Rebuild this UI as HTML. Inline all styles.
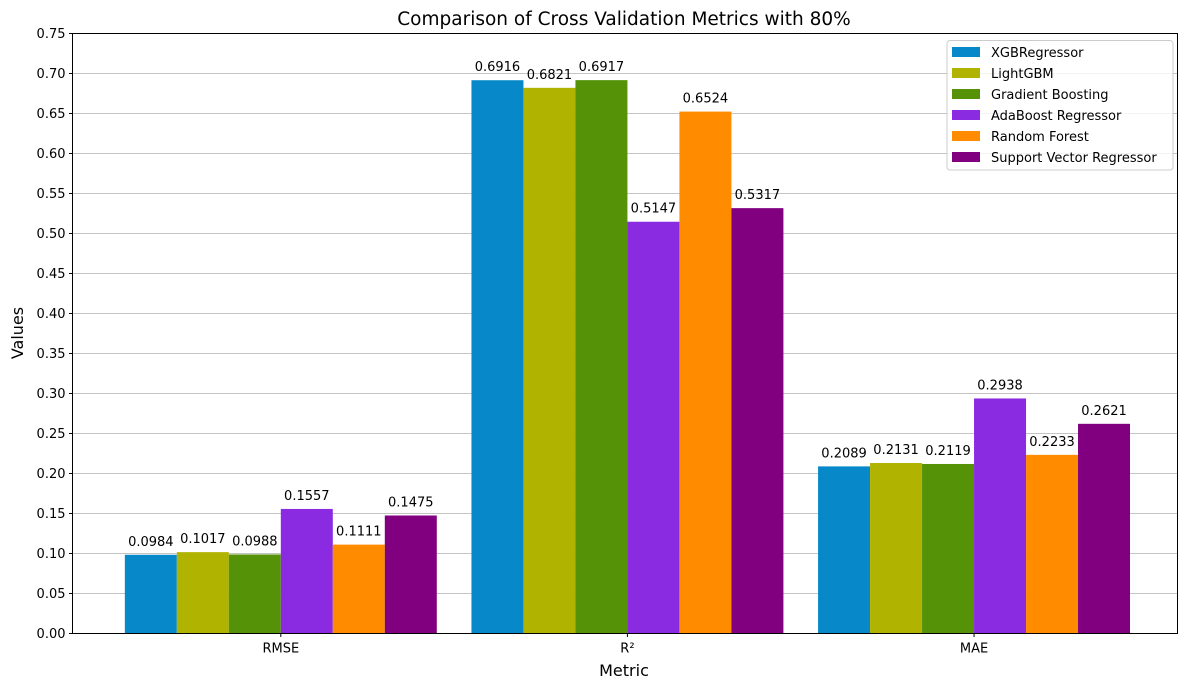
<!DOCTYPE html>
<html><head><meta charset="utf-8">
<style>
body{margin:0;background:#fff;}
svg{display:block;font-family:"DejaVu Sans","Liberation Sans",sans-serif;}
</style></head>
<body>
<svg id="chart" width="1189" height="690" viewBox="0 0 1189 690">
<text x="624" y="25" font-size="18.5" text-anchor="middle">Comparison of Cross Validation Metrics with 80%</text>
<text x="624" y="676" font-size="16" text-anchor="middle">Metric</text>
<text x="23" y="333" font-size="16" text-anchor="middle" transform="rotate(-90 23 333)">Values</text>
<g id="grid"></g><g id="bars"></g><g id="labels"></g><g id="ticks"></g>
<rect x="72.5" y="33.5" width="1105" height="600" fill="none" stroke="#000" stroke-width="1"/>
<g id="legend"></g>
</svg>
<script>
const categories = ["RMSE", "R²", "MAE"];
const models = ["XGBRegressor", "LightGBM", "Gradient Boosting", "AdaBoost Regressor", "Random Forest", "Support Vector Regressor"];
const colors = ["#0788c8", "#b0b300", "#559208", "#8a2be2", "#ff8c00", "#800080"];
const xgbValues = [0.0984, 0.6916, 0.2089];
const lgbmValues = [0.1017, 0.6821, 0.2131];
const gbValues = [0.0988, 0.6917, 0.2119];
const adaValues = [0.1557, 0.5147, 0.2938];
const rfValues = [0.1111, 0.6524, 0.2233];
const svrValues = [0.1475, 0.5317, 0.2621];
const yTicks = [0,0.05,0.10,0.15,0.20,0.25,0.30,0.35,0.40,0.45,0.50,0.55,0.60,0.65,0.70,0.75];

const series = [xgbValues, lgbmValues, gbValues, adaValues, rfValues, svrValues];
const NS = "http://www.w3.org/2000/svg";
const L=72.5, R=1177.5, T=33.5, B=633.5;
const xmin=-0.601, xmax=2.587, ymax=0.75;
const xs = v => L + (v - xmin)/(xmax - xmin)*(R - L);
const ys = v => B - v/ymax*(B - T);
const barW = 0.15;
function mk(tag, attrs, parent){const e=document.createElementNS(NS,tag);for(const k in attrs)e.setAttribute(k,attrs[k]);document.getElementById(parent).appendChild(e);return e;}

yTicks.forEach(t=>{
  const y=ys(t);
  const g=mk("line",{x1:L,x2:R,y1:y,y2:y,stroke:"#b0b0b0","stroke-width":0.8},"grid");
  
  
  mk("line",{x1:L-3.5,x2:L,y1:y,y2:y,stroke:"#000"},"ticks");
  const tx=mk("text",{x:L-7,y:y+4.5,"font-size":13,"text-anchor":"end"},"ticks");
  tx.textContent=t.toFixed(2);
  
  
});
categories.forEach((c,i)=>{
  const x=xs(i);
  mk("line",{x1:x,x2:x,y1:B,y2:B+3.5,stroke:"#000"},"ticks");
  const tx=mk("text",{x:x,y:B+19,"font-size":13,"text-anchor":"middle"},"ticks");
  tx.textContent=c;
  
  
});
series.forEach((vals,s)=>{
  vals.forEach((v,i)=>{
    const c=i+(s-2.5)*barW;
    const x0=xs(c-barW/2), x1=xs(c+barW/2);
    const r=mk("rect",{x:x0,y:ys(v),width:x1-x0,height:ys(0)-ys(v),fill:colors[s]},"bars");
    
    
    const t=mk("text",{x:xs(c),y:ys(v)-9,"font-size":13,"text-anchor":"middle"},"labels");
    t.textContent=v.toFixed(4);
    
    
  });
});
const lb=mk("rect",{x:947,y:40.5,width:226,height:129.5,rx:3,fill:"#fff","fill-opacity":0.8,stroke:"#ccc"},"legend");


models.forEach((m,i)=>{
  const y=52+i*21;
  const p=mk("rect",{x:952,y:y-5,width:28,height:10,fill:colors[i]},"legend");
  
  
  const t=mk("text",{x:991,y:y+5,"font-size":13},"legend");
  t.textContent=m;
  
  
});
</script>
</body></html>
